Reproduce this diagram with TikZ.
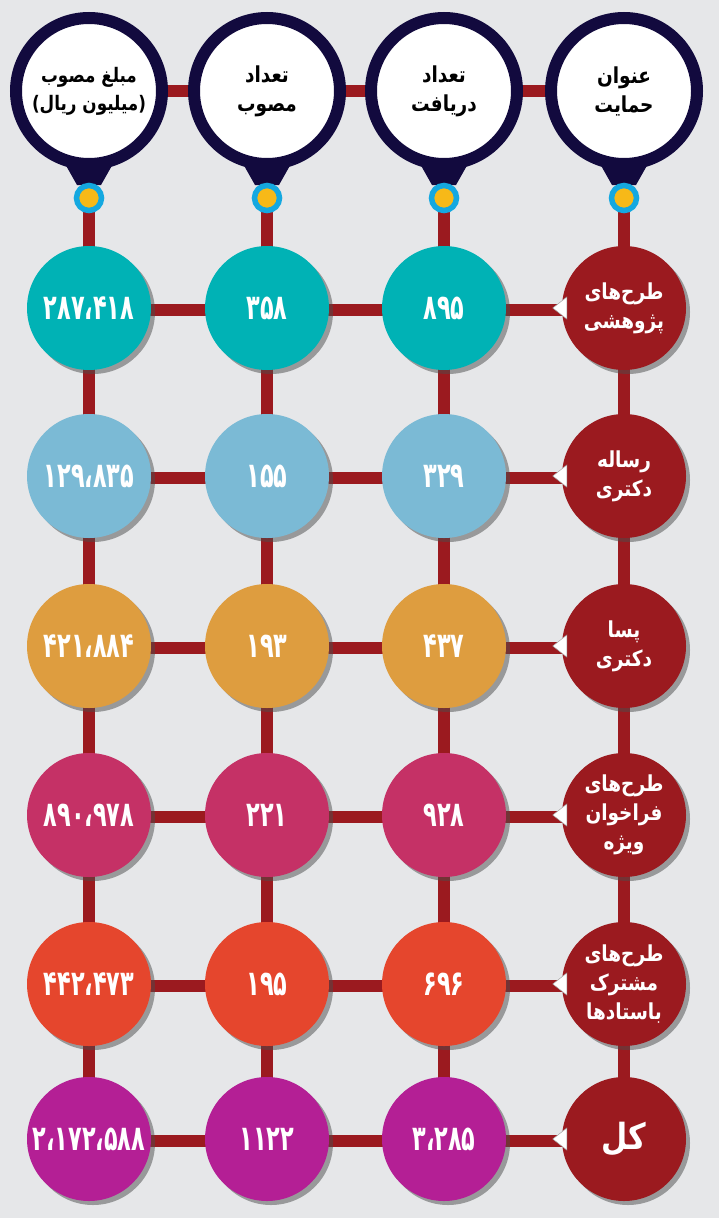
\documentclass[tikz,border=0pt]{standalone}
\usepackage{fontspec}
\usetikzlibrary{shadows,positioning}
\TeXXeTstate=1
\newfontfamily\farsi[Script=Arabic,FakeStretch=0.84]{DejaVu Sans}
\newfontfamily\farsinum[Script=Arabic,FakeStretch=0.64]{DejaVu Sans}
\newcommand\rl[1]{\beginR #1\endR}
\pgfdeclarelayer{back}
\pgfdeclarelayer{bars}
\pgfsetlayers{back,bars,main}

\begin{document}
\begin{tikzpicture}[x=1pt,y=-1pt]
  % Colors
  \definecolor{bgcolor}{RGB}{230,231,233}
  \definecolor{barcolor}{RGB}{155,26,31}
  \definecolor{navycolor}{RGB}{18,10,62}
  \definecolor{pincyan}{RGB}{20,168,224}
  \definecolor{pinyellow}{RGB}{247,185,24}
  \definecolor{rowone}{RGB}{0,178,181}
  \definecolor{rowtwo}{RGB}{123,186,213}
  \definecolor{rowthree}{RGB}{222,157,63}
  \definecolor{rowfour}{RGB}{197,49,102}
  \definecolor{rowfive}{RGB}{229,70,45}
  \definecolor{rowsix}{RGB}{180,31,149}

  % Styles
  \tikzstyle{bar}=[draw=barcolor,line width=12pt]
  \tikzstyle{head}=[circle,fill=white,draw=navycolor,line width=12pt,minimum size=146pt,
    inner sep=0pt,align=center,text=black,font=\farsi\bfseries\fontsize{22}{29}\selectfont]
  \tikzstyle{pin}=[circle,fill=pinyellow,draw=pincyan,line width=5.5pt,minimum size=25pt,inner sep=0pt]
  \tikzstyle{cell}=[circle,minimum size=124pt,inner sep=0pt,text=white,
    font=\farsinum\bfseries\fontsize{35}{36}\selectfont,
    drop shadow={shadow xshift=4pt,shadow yshift=-4pt,fill=black!70,opacity=0.5}]
  \tikzstyle{title}=[cell,fill=barcolor,align=center,font=\farsi\bfseries\fontsize{22}{29}\selectfont]
  \tikzstyle{pointer}=[fill=white,draw=black!35,line width=0.5pt]

  % The graphic
  \begin{pgfonlayer}{back}
    \fill[bgcolor] (0,0) rectangle (719,1218);
  \end{pgfonlayer}
  \useasboundingbox (0,0) rectangle (719,1218);

  % header pins
  \fill[navycolor] (64,162) -- (114,162) -- (101,185) -- (77,185) -- cycle;
  \fill[navycolor] (242,162) -- (292,162) -- (279,185) -- (255,185) -- cycle;
  \fill[navycolor] (419,162) -- (469,162) -- (456,185) -- (432,185) -- cycle;
  \fill[navycolor] (599,162) -- (649,162) -- (636,185) -- (612,185) -- cycle;
  \node[head,font=\farsi\bfseries\fontsize{20}{28}\selectfont] (amount) at (89,91)
    {\rl{مبلغ مصوب}\\\rl{(میلیون ریال)}};
  \node[head] (approved) at (267,91) {\rl{تعداد}\\\rl{مصوب}};
  \node[head] (received) at (444,91) {\rl{تعداد}\\\rl{دریافت}};
  \node[head] (support) at (624,91) {\rl{عنوان}\\\rl{حمایت}};
  \node[pin] (pinA) at (89,198) {};
  \node[pin] (pinB) at (267,198) {};
  \node[pin] (pinC) at (444,198) {};
  \node[pin] (pinD) at (624,198) {};

  % rows
  \node[cell,fill=rowone] (oneA) at (89,308) {۲۸۷،۴۱۸};
  \node[cell,fill=rowone] (oneB) at (267,308) {۳۵۸};
  \node[cell,fill=rowone] (oneC) at (444,308) {۸۹۵};
  \node[title] (oneD) at (624,308) {\rl{طرح‌های}\\\rl{پژوهشی}};

  \node[cell,fill=rowtwo] (twoA) at (89,476) {۱۲۹،۸۳۵};
  \node[cell,fill=rowtwo] (twoB) at (267,476) {۱۵۵};
  \node[cell,fill=rowtwo] (twoC) at (444,476) {۳۲۹};
  \node[title] (twoD) at (624,476) {\rl{رساله}\\\rl{دکتری}};

  \node[cell,fill=rowthree] (threeA) at (89,646) {۴۲۱،۸۸۴};
  \node[cell,fill=rowthree] (threeB) at (267,646) {۱۹۳};
  \node[cell,fill=rowthree] (threeC) at (444,646) {۴۳۷};
  \node[title] (threeD) at (624,646) {\rl{پسا}\\\rl{دکتری}};

  \node[cell,fill=rowfour] (fourA) at (89,815) {۸۹۰،۹۷۸};
  \node[cell,fill=rowfour] (fourB) at (267,815) {۲۲۱};
  \node[cell,fill=rowfour] (fourC) at (444,815) {۹۲۸};
  \node[title] (fourD) at (624,815) {\rl{طرح‌های}\\\rl{فراخوان}\\\rl{ویژه}};

  \node[cell,fill=rowfive] (fiveA) at (89,984) {۴۴۲،۴۷۳};
  \node[cell,fill=rowfive] (fiveB) at (267,984) {۱۹۵};
  \node[cell,fill=rowfive] (fiveC) at (444,984) {۶۹۶};
  \node[title] (fiveD) at (624,984) {\rl{طرح‌های}\\\rl{مشترک}\\\rl{باستادها}};

  \node[cell,fill=rowsix] (sixA) at (89,1139) {۲،۱۷۲،۵۸۸};
  \node[cell,fill=rowsix] (sixB) at (267,1139) {۱۱۲۲};
  \node[cell,fill=rowsix] (sixC) at (444,1139) {۳،۲۸۵};
  \node[title,font=\farsi\bfseries\fontsize{36}{38}\selectfont] (sixD) at (624,1139) {\rl{کل}};

  % connectors
  \begin{pgfonlayer}{bars}
    \draw[bar] (amount.center) -- (support.center);
    \draw[bar] (pinA.center) -- (sixA.center);
    \draw[bar] (pinB.center) -- (sixB.center);
    \draw[bar] (pinC.center) -- (sixC.center);
    \draw[bar] (pinD.center) -- (sixD.center);
    \draw[bar] ([yshift=-2pt]oneA.center) -- ([yshift=-2pt]oneD.center);
    \draw[bar] ([yshift=-2pt]twoA.center) -- ([yshift=-2pt]twoD.center);
    \draw[bar] ([yshift=-2pt]threeA.center) -- ([yshift=-2pt]threeD.center);
    \draw[bar] ([yshift=-2pt]fourA.center) -- ([yshift=-2pt]fourD.center);
    \draw[bar] ([yshift=-2pt]fiveA.center) -- ([yshift=-2pt]fiveD.center);
    \draw[bar] ([yshift=-2pt]sixA.center) -- ([yshift=-2pt]sixD.center);
  \end{pgfonlayer}

  % pointers
  \draw[pointer] ([xshift=-9pt]oneD.west) -- ++(14,-11) -- ++(0,22) -- cycle;
  \draw[pointer] ([xshift=-9pt]twoD.west) -- ++(14,-11) -- ++(0,22) -- cycle;
  \draw[pointer] ([xshift=-9pt]threeD.west) -- ++(14,-11) -- ++(0,22) -- cycle;
  \draw[pointer] ([xshift=-9pt]fourD.west) -- ++(14,-11) -- ++(0,22) -- cycle;
  \draw[pointer] ([xshift=-9pt]fiveD.west) -- ++(14,-11) -- ++(0,22) -- cycle;
  \draw[pointer] ([xshift=-9pt]sixD.west) -- ++(14,-11) -- ++(0,22) -- cycle;

\end{tikzpicture}
\end{document}
